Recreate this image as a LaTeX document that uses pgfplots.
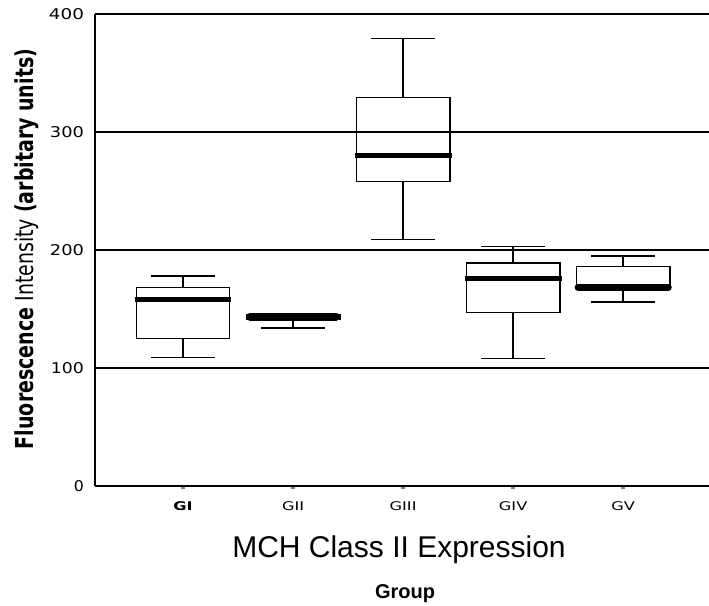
\documentclass[border=0pt]{standalone}
\usepackage{pgfplots}
\pgfplotsset{compat=1.18}
\usepackage{fontspec}
\setmainfont{DejaVu Sans}
\newfontfamily\arial{Liberation Sans}
\newcommand\xt[1]{{\fontsize{12}{14}\selectfont\scalebox{1.35}[1]{#1}}}
\newcommand\yt[2]{\resizebox{#1}{11pt}{#2}}
\begin{document}
\begin{tikzpicture}
\path[use as bounding box] (0,0) rectangle (709pt,605pt);
\begin{axis}[
  at={(95pt,119pt)}, anchor=south west,
  scale only axis, width=614pt, height=472pt,
  xmin=0.2, xmax=5.78, ymin=0, ymax=400,
  axis lines*=left,
  axis line style={line width=1.8pt},
  ytick={0,100,200,300,400},
  yticklabels={\yt{10pt}{0},\yt{33pt}{100},\yt{34pt}{200},\yt{34pt}{300},\yt{35pt}{400}},
  ymajorgrids, grid style={black, line width=1.2pt},
  xtick={1,2,3,4,5},
  xticklabels={\xt{\textbf{GI}},\xt{GII},\xt{GIII},\xt{GIV},\xt{GV}},
  ytick style={draw=none},
  xtick style={line width=3.5pt},
  major tick length=2.5pt,
  tick align=outside,
  yticklabel style={xshift=-5pt},
  xticklabel style={yshift=-10pt},
  cycle list={{black,solid,mark=none}},
  every axis plot/.append style={black, line width=1.4pt, line join=miter, mark=none},
  clip=false,
]
% GI: 109 125 158 168 178
\addplot coordinates {(0.575,125) (1.425,125) (1.425,168) (0.575,168) (0.575,125)};
\addplot coordinates {(1,168) (1,178)};
\addplot coordinates {(0.71,178) (1.29,178)};
\addplot coordinates {(1,125) (1,109)};
\addplot coordinates {(0.71,109) (1.29,109)};
\addplot[line width=5pt] coordinates {(0.56,158) (1.44,158)};
% GII: 134 141.5 143.5 145.5 146
\addplot coordinates {(1.575,141.5) (2.425,141.5) (2.425,145.5) (1.575,145.5) (1.575,141.5)};
\addplot coordinates {(2,141.5) (2,134)};
\addplot coordinates {(1.71,134) (2.29,134)};
\addplot[line width=8pt, line cap=round] coordinates {(1.61,143.5) (2.39,143.5)};
% GIII: 209 258 280 329 379
\addplot coordinates {(2.575,258) (3.425,258) (3.425,329) (2.575,329) (2.575,258)};
\addplot coordinates {(3,329) (3,379)};
\addplot coordinates {(2.71,379) (3.29,379)};
\addplot coordinates {(3,258) (3,209)};
\addplot coordinates {(2.71,209) (3.29,209)};
\addplot[line width=5pt] coordinates {(2.56,280) (3.44,280)};
% GIV: 108 147 176 189 203
\addplot coordinates {(3.575,147) (4.425,147) (4.425,189) (3.575,189) (3.575,147)};
\addplot coordinates {(4,189) (4,203)};
\addplot coordinates {(3.71,203) (4.29,203)};
\addplot coordinates {(4,147) (4,108)};
\addplot coordinates {(3.71,108) (4.29,108)};
\addplot[line width=5pt] coordinates {(3.56,176) (4.44,176)};
% GV: 156 167 168.5 186 195
\addplot coordinates {(4.575,167) (5.425,167) (5.425,186) (4.575,186) (4.575,167)};
\addplot coordinates {(5,186) (5,195)};
\addplot coordinates {(4.71,195) (5.29,195)};
\addplot coordinates {(5,167) (5,156)};
\addplot coordinates {(4.71,156) (5.29,156)};
\addplot[line width=7pt, line cap=round] coordinates {(4.59,168.5) (5.41,168.5)};
\end{axis}
\node[rotate=90, anchor=center, font=\fontsize{19}{21}\selectfont] at (27pt,356pt)
  {\scalebox{1}[1.3]{\textbf{Fluorescence} Intensity \textbf{(arbitary units)}}};
\node[anchor=base, font=\arial\fontsize{30}{33}\selectfont] at (399pt,48pt) {MCH Class II Expression};
\node[anchor=base, font=\arial\bfseries\fontsize{20}{22}\selectfont] at (405pt,7pt) {Group};
\end{tikzpicture}
\end{document}
